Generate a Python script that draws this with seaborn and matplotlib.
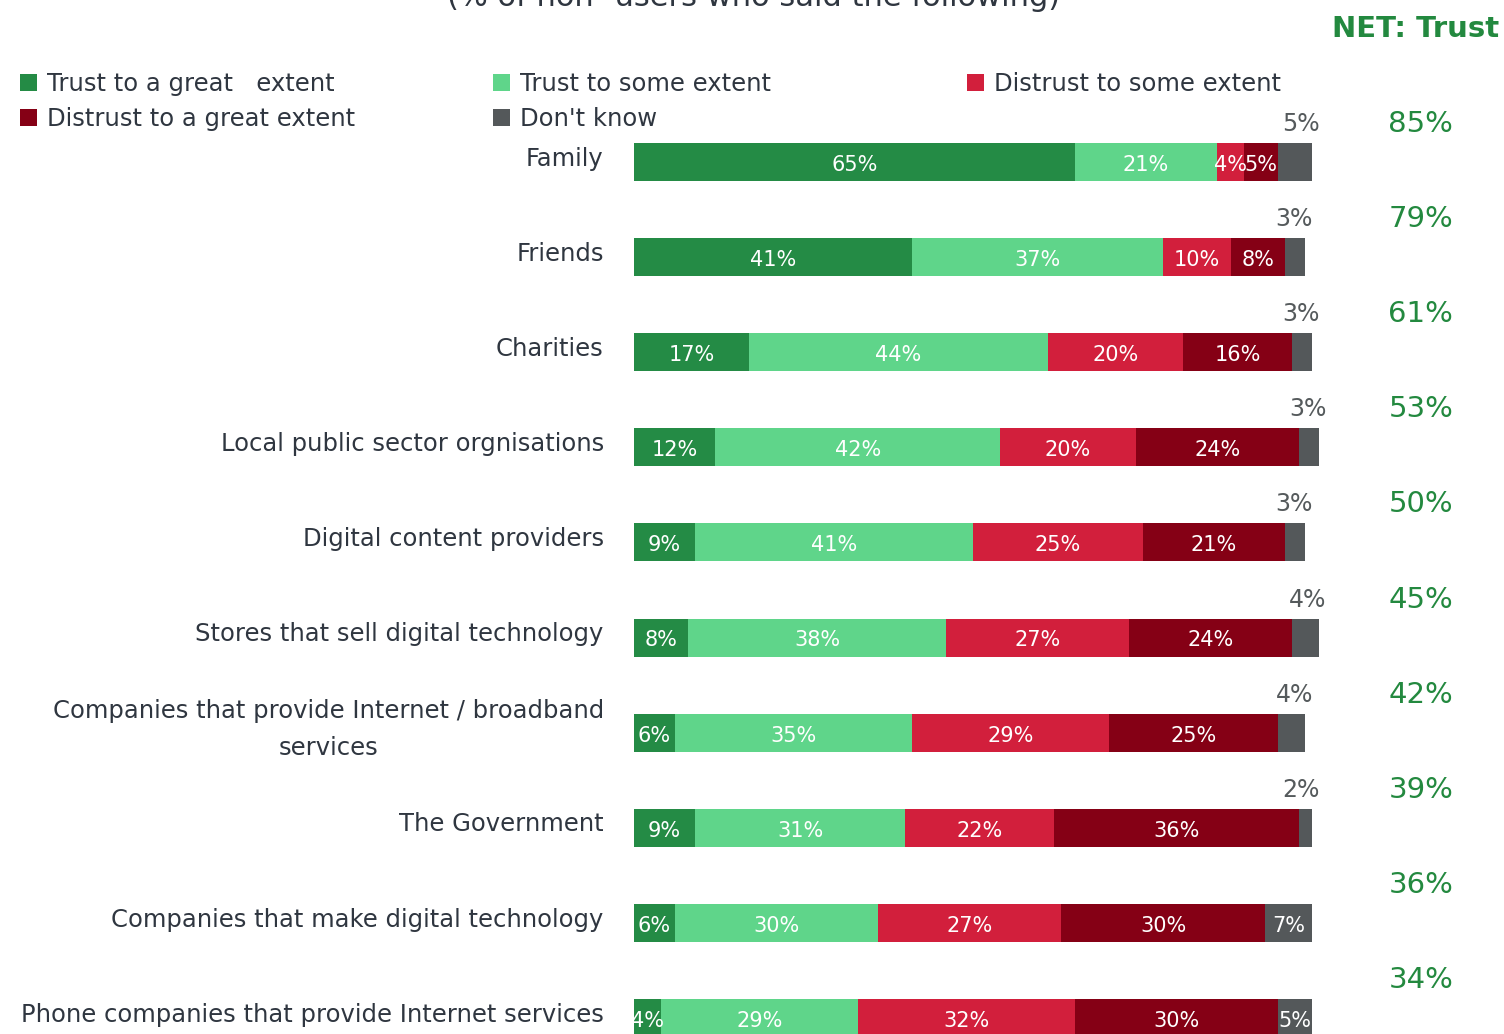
import matplotlib
matplotlib.use("Agg")
import matplotlib.pyplot as plt
import seaborn as sns
import pandas as pd
from matplotlib.patches import Patch

categories = ["Family", "Friends", "Charities", "Local public sector orgnisations",
              "Digital content providers", "Stores that sell digital technology",
              "Companies that provide Internet / broadband\nservices", "The Government",
              "Companies that make digital technology",
              "Phone companies that provide Internet services"]
trust_great = [65, 41, 17, 12, 9, 8, 6, 9, 6, 4]
trust_some = [21, 37, 44, 42, 41, 38, 35, 31, 30, 29]
distrust_some = [4, 10, 20, 20, 25, 27, 29, 22, 27, 32]
distrust_great = [5, 8, 16, 24, 21, 24, 25, 36, 30, 30]
dont_know = [5, 3, 3, 3, 3, 4, 4, 2, 7, 5]
net_trust = [85, 79, 61, 53, 50, 45, 42, 39, 36, 34]
dk_above = [True, True, True, True, True, True, True, True, False, False]

series = ["Trust to a great   extent", "Trust to some extent", "Distrust to some extent",
          "Distrust to a great extent", "Don't know"]
colors = ["#248b45", "#5fd58a", "#d21f3c", "#850015", "#54585a"]

df = pd.DataFrame({"category": categories, series[0]: trust_great, series[1]: trust_some,
                   series[2]: distrust_some, series[3]: distrust_great, series[4]: dont_know})
cum = df[series].cumsum(axis=1)

sns.set_style("white")
plt.rcParams["font.family"] = ["DejaVu Sans"]
text_col = "#2f3640"
green = "#23893f"

fig = plt.figure(figsize=(15.04, 10.34), dpi=100)
ax = fig.add_axes([634 / 1504, (1034 - 1065.5) / 1034, 685 / 1504, 951 / 1034])

# stacked bars: draw the largest cumulative first, then overlay
for s, c in reversed(list(zip(series, colors))):
    d = pd.DataFrame({"category": categories, "x": cum[s]})
    sns.barplot(data=d, x="x", y="category", order=categories, orient="h", color=c,
                saturation=1, width=0.4, errorbar=None, ax=ax, linewidth=0)

ax.set_xlim(0, 101)
ax.set_ylim(9.5, -0.5)
sns.despine(ax=ax, left=True, bottom=True)
ax.set_xticks([])
ax.set_yticks([])
ax.set_xlabel("")
ax.set_ylabel("")

# category labels, sitting a little above the bar centre
for i, cat in enumerate(categories):
    ax.text(-0.044, i - 0.035, cat, transform=ax.get_yaxis_transform(), ha="right",
            va="center", multialignment="center", linespacing=1.7,
            fontsize=17.5, color=text_col)

# labels inside the bars
for i in range(len(categories)):
    for j, s in enumerate(series):
        v = df[s][i]
        right = cum[s][i]
        if j == 4 and dk_above[i]:
            ax.text(right + 1.1, i - 0.4, f"{v}%", ha="right", va="center",
                    fontsize=17, color="#555a5c", clip_on=False)
            continue
        ax.text(right - v / 2, i + 0.03, f"{v}%", ha="center", va="center",
                fontsize=15, color="white", clip_on=True)
    ax.text(116, i - 0.4, f"{net_trust[i]}%", ha="center", va="center",
            fontsize=21, color=green, clip_on=False)

fig.text(0.997, 0.972, "NET: Trust", ha="right", va="center", fontsize=21,
         fontweight="bold", color=green)
fig.text(0.501, 1.002, "(% of non- users who said the following)", ha="center",
         va="center", fontsize=22, color=text_col)

# legend: three columns placed by hand
handles = [Patch(facecolor=c, edgecolor="none") for c in colors]
columns = [[0, 3], [1, 4], [2]]
col_x = [20 / 1504, 493 / 1504, 967 / 1504]
for cols, x in zip(columns, col_x):
    leg = fig.legend([handles[k] for k in cols], [series[k] for k in cols],
                     loc="upper left", bbox_to_anchor=(x, 0.93), frameon=False,
                     fontsize=17.5, handlelength=0.7, handleheight=0.7, handletextpad=0.4,
                     labelspacing=0.45, borderaxespad=0, borderpad=0)
    for t in leg.get_texts():
        t.set_color(text_col)

fig.savefig("out.png", dpi=100)
